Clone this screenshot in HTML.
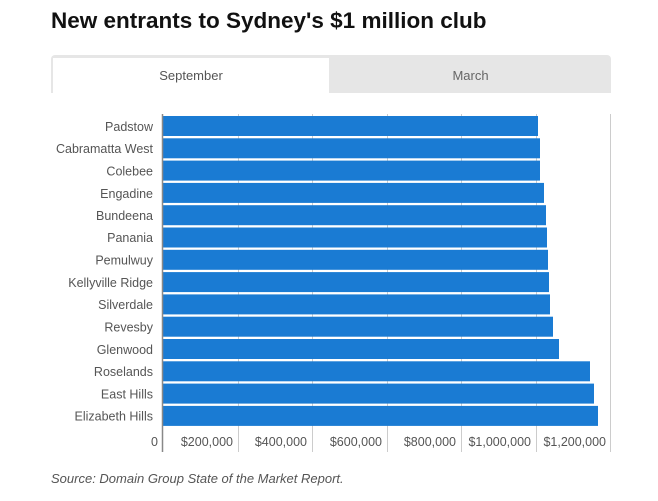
<!DOCTYPE html>
<html><head><style>
body{margin:0;background:#fff;font-family:"Liberation Sans",sans-serif;}
.t{position:absolute;left:51px;top:8px;font-size:22.5px;font-weight:bold;color:#111;letter-spacing:0px}
.tabs{position:absolute;left:51px;top:55px;width:560px;height:38px;background:#e6e6e6;border-radius:4px 4px 0 0}
.tab1{position:absolute;left:53px;top:58px;width:276px;height:35px;background:#fff;text-align:center;line-height:35px;font-size:13px;color:#555}
.tab2{position:absolute;left:330px;top:58px;width:281px;height:35px;text-align:center;line-height:35px;font-size:13px;color:#666}
.src{position:absolute;left:51px;top:471px;font-size:13px;font-style:italic;color:#555}
</style></head><body>
<div class="t">New entrants to Sydney's $1 million club</div>
<div class="tabs"></div>
<div class="tab1">September</div>
<div class="tab2">March</div>
<svg width="658" height="501" style="position:absolute;left:0;top:0">
<g stroke="#ccc" stroke-width="1">
<line x1="238.5" y1="114" x2="238.5" y2="452"/><line x1="312.5" y1="114" x2="312.5" y2="452"/>
<line x1="387.5" y1="114" x2="387.5" y2="452"/><line x1="461.5" y1="114" x2="461.5" y2="452"/>
<line x1="536.5" y1="114" x2="536.5" y2="452"/><line x1="610.5" y1="114" x2="610.5" y2="452"/>
</g>
<g fill="#1a7bd3">
<rect x="163" y="116" width="375" height="20"/>
<rect x="163" y="138.3" width="377" height="20"/>
<rect x="163" y="160.6" width="377" height="20"/>
<rect x="163" y="182.9" width="381" height="20"/>
<rect x="163" y="205.2" width="383" height="20"/>
<rect x="163" y="227.5" width="384" height="20"/>
<rect x="163" y="249.8" width="385" height="20"/>
<rect x="163" y="272.1" width="386" height="20"/>
<rect x="163" y="294.4" width="387" height="20"/>
<rect x="163" y="316.7" width="390" height="20"/>
<rect x="163" y="339" width="396" height="20"/>
<rect x="163" y="361.3" width="427" height="20"/>
<rect x="163" y="383.6" width="431" height="20"/>
<rect x="163" y="405.9" width="435" height="20"/>
</g>
<line x1="162.5" y1="114" x2="162.5" y2="452" stroke="#888" stroke-width="1.5"/>
<g font-family="Liberation Sans,sans-serif" font-size="12.5" fill="#555" text-anchor="end">
<text x="153" y="131">Padstow</text>
<text x="153" y="153">Cabramatta West</text>
<text x="153" y="175.5">Colebee</text>
<text x="153" y="198">Engadine</text>
<text x="153" y="220">Bundeena</text>
<text x="153" y="242">Panania</text>
<text x="153" y="264.5">Pemulwuy</text>
<text x="153" y="287">Kellyville Ridge</text>
<text x="153" y="309">Silverdale</text>
<text x="153" y="331.5">Revesby</text>
<text x="153" y="354">Glenwood</text>
<text x="153" y="376">Roselands</text>
<text x="153" y="398.5">East Hills</text>
<text x="153" y="420.5">Elizabeth Hills</text>
<text x="158" y="446">0</text>
<text x="233" y="446">$200,000</text>
<text x="307" y="446">$400,000</text>
<text x="382" y="446">$600,000</text>
<text x="456" y="446">$800,000</text>
<text x="531" y="446">$1,000,000</text>
<text x="606" y="446">$1,200,000</text>
</g>
</svg>
<div class="src">Source: Domain Group State of the Market Report.</div>
</body></html>
